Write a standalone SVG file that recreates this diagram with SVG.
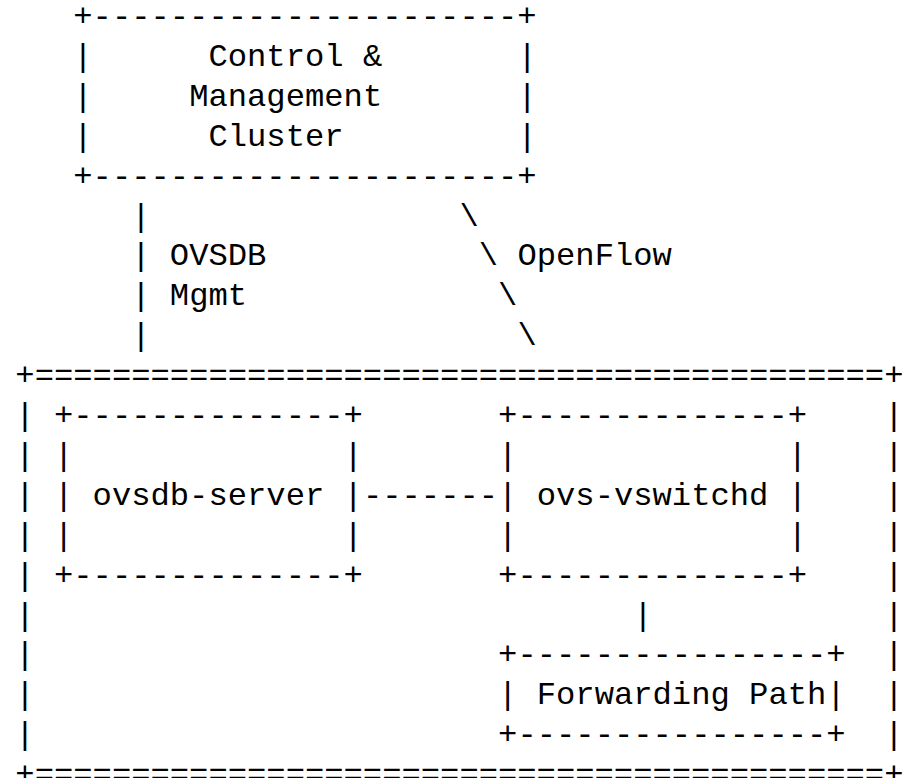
<svg xmlns="http://www.w3.org/2000/svg" width="904" height="778" viewBox="0 0 904 778">
<style>
.t{font-family:"Liberation Mono","Courier New",monospace;font-size:32.18px;fill:#000;}
</style>
<rect x="0" y="0" width="904" height="778" fill="#fff"/>
<g id="control-cluster" class="t">
<text x="73.28" y="26">+----------------------+</text>
<text x="73.28" y="65.9">|</text><text x="208.45" y="65.9">Control &amp;</text><text x="517.41" y="65.9">|</text>
<text x="73.28" y="105.8">|</text><text x="189.14" y="105.8">Management</text><text x="517.41" y="105.8">|</text>
<text x="73.28" y="145.7">|</text><text x="208.45" y="145.7">Cluster</text><text x="517.41" y="145.7">|</text>
<text x="73.28" y="185.6">+----------------------+</text>
</g>
<g id="host" class="t">
<text x="15.35" y="385.1">+============================================+</text>
<text x="15.35" y="425">|</text><text x="884.3" y="425">|</text>
<text x="15.35" y="464.9">|</text><text x="884.3" y="464.9">|</text>
<text x="15.35" y="504.8">|</text><text x="884.3" y="504.8">|</text>
<text x="15.35" y="544.7">|</text><text x="884.3" y="544.7">|</text>
<text x="15.35" y="584.6">|</text><text x="884.3" y="584.6">|</text>
<text x="15.35" y="624.5">|</text><text x="884.3" y="624.5">|</text>
<text x="15.35" y="664.4">|</text><text x="884.3" y="664.4">|</text>
<text x="15.35" y="704.3">|</text><text x="884.3" y="704.3">|</text>
<text x="15.35" y="744.2">|</text><text x="884.3" y="744.2">|</text>
<text x="15.35" y="784.1">+============================================+</text>
</g>
<g id="ovsdb-server" class="t">
<text x="53.97" y="425">+--------------+</text>
<text x="53.97" y="464.9">|</text><text x="343.62" y="464.9">|</text>
<text x="53.97" y="504.8">| ovsdb-server |</text>
<text x="53.97" y="544.7">|</text><text x="343.62" y="544.7">|</text>
<text x="53.97" y="584.6">+--------------+</text>
</g>
<g id="ovs-vswitchd" class="t">
<text x="498.1" y="425">+--------------+</text>
<text x="498.1" y="464.9">|</text><text x="787.75" y="464.9">|</text>
<text x="498.1" y="504.8">| ovs-vswitchd |</text>
<text x="498.1" y="544.7">|</text><text x="787.75" y="544.7">|</text>
<text x="498.1" y="584.6">+--------------+</text>
</g>
<g id="forwarding-path" class="t">
<text x="498.1" y="664.4">+----------------+</text>
<text x="498.1" y="704.3">| Forwarding Path|</text>
<text x="498.1" y="744.2">+----------------+</text>
</g>
<g id="connectors" class="t">
<text x="131.21" y="225.5">|</text>
<text x="131.21" y="265.4">|</text><text x="169.83" y="265.4">OVSDB</text>
<text x="131.21" y="305.3">|</text><text x="169.83" y="305.3">Mgmt</text>
<text x="131.21" y="345.2">|</text>
<text x="459.48" y="225.5">\</text>
<text x="478.79" y="265.4">\</text><text x="517.41" y="265.4">OpenFlow</text>
<text x="498.1" y="305.3">\</text>
<text x="517.41" y="345.2">\</text>
<text x="362.93" y="504.8">-------</text>
<text x="633.27" y="624.5">|</text>
</g>
</svg>
